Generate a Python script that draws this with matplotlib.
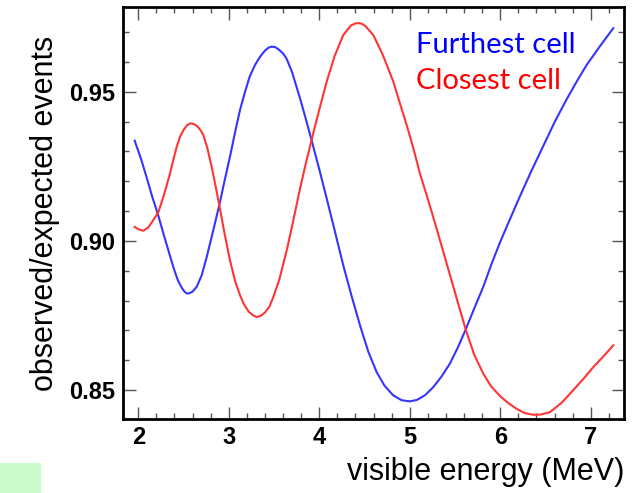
import matplotlib
matplotlib.use("Agg")
import matplotlib.pyplot as plt
from matplotlib.patches import Rectangle
from matplotlib.ticker import MultipleLocator, FormatStrFormatter

# furthest cell (blue)
far_e = [1.96, 2.03, 2.09, 2.15, 2.22, 2.28, 2.35, 2.40, 2.44, 2.48, 2.51, 2.535,
         2.56, 2.60, 2.645, 2.70, 2.756, 2.82, 2.895, 2.95, 3.013, 3.07, 3.124,
         3.18, 3.23, 3.29, 3.345, 3.40, 3.44, 3.474, 3.51, 3.55, 3.60, 3.64, 3.70,
         3.75, 3.787, 3.85, 3.916, 4.0, 4.082, 4.17, 4.265, 4.36, 4.45, 4.54,
         4.634, 4.72, 4.818, 4.91, 5.0, 5.08, 5.17, 5.26, 5.35, 5.444, 5.53,
         5.618, 5.71, 5.812, 5.90, 5.997, 6.10, 6.218, 6.34, 6.475, 6.60, 6.734,
         6.85, 6.955, 7.10, 7.249]
far_r = [0.9336, 0.9275, 0.9215, 0.9152, 0.9086, 0.9022, 0.8950, 0.8900, 0.8866, 0.8843, 0.8830, 0.8824,
         0.8824, 0.8830, 0.8846, 0.8884, 0.8946, 0.9025, 0.9120, 0.9197, 0.9282, 0.9365, 0.9439,
         0.9500, 0.9550, 0.9590, 0.9617, 0.9638, 0.9648, 0.9651, 0.9650, 0.9642, 0.9628, 0.9610, 0.9565,
         0.9515, 0.9478, 0.9410, 0.9336, 0.9240, 0.9142, 0.9035, 0.8918, 0.8812, 0.8717, 0.8630,
         0.8560, 0.8515, 0.8482, 0.8466, 0.8462, 0.8467, 0.8483, 0.8510, 0.8545, 0.8589, 0.8642,
         0.8703, 0.8772, 0.8846, 0.8920, 0.8995, 0.9068, 0.9150, 0.9232, 0.9318, 0.9398, 0.9475,
         0.9537, 0.9590, 0.9652, 0.9713]

# closest cell (red)
near_e = [1.96, 2.0, 2.055, 2.11, 2.166, 2.22, 2.28, 2.35, 2.39, 2.424, 2.46, 2.50,
          2.54, 2.575, 2.61, 2.65, 2.69, 2.718, 2.76, 2.811, 2.85, 2.895, 2.95,
          3.013, 3.07, 3.124, 3.17, 3.22, 3.27, 3.31, 3.35, 3.40, 3.45, 3.492,
          3.56, 3.64, 3.71, 3.787, 3.85, 3.916, 4.0, 4.082, 4.17, 4.265, 4.35,
          4.40, 4.431, 4.47, 4.51, 4.597, 4.70, 4.818, 4.89, 4.966, 5.04, 5.113,
          5.19, 5.26, 5.35, 5.444, 5.53, 5.618, 5.71, 5.812, 5.90, 5.997, 6.09,
          6.181, 6.27, 6.365, 6.45, 6.549, 6.68, 6.807, 6.92, 7.028, 7.14, 7.249]
near_r = [0.9047, 0.9039, 0.9034, 0.9045, 0.9070, 0.9095, 0.9150, 0.9225, 0.9275, 0.9315, 0.9348, 0.9372,
          0.9388, 0.9394, 0.9392, 0.9385, 0.9370, 0.9355, 0.9315, 0.9248, 0.9190, 0.9120, 0.9030,
          0.8935, 0.8865, 0.8818, 0.8786, 0.8763, 0.8750, 0.8745, 0.8748, 0.8760, 0.8780, 0.8812,
          0.8872, 0.8968, 0.9064, 0.9175, 0.9258, 0.9340, 0.9440, 0.9534, 0.9620, 0.9690, 0.9722,
          0.9729, 0.9730, 0.9728, 0.9720, 0.9690, 0.9625, 0.9534, 0.9462, 0.9388, 0.9310, 0.9225,
          0.9150, 0.9079, 0.8985, 0.8886, 0.8795, 0.8703, 0.8620, 0.8555, 0.8512, 0.8480, 0.8456,
          0.8437, 0.8423, 0.8417, 0.8418, 0.8426, 0.8458, 0.8500, 0.8538, 0.8577, 0.8613, 0.8650]

fig = plt.figure(figsize=(6.36, 4.93), dpi=100)
ax = fig.add_axes([0.1934, 0.1501, 0.7877, 0.8357])

ax.plot(far_e, far_r, color="#3535ff", lw=1.5)
ax.plot(near_e, near_r, color="#ff3535", lw=1.5)

ax.set_xlim(1.831, 7.367)
ax.set_ylim(0.8403, 0.9784)
ax.xaxis.set_major_locator(MultipleLocator(1))
ax.xaxis.set_minor_locator(MultipleLocator(0.2))
ax.yaxis.set_major_locator(MultipleLocator(0.05))
ax.yaxis.set_minor_locator(MultipleLocator(0.01))
ax.yaxis.set_major_formatter(FormatStrFormatter("%.2f"))

for s in ax.spines.values():
    s.set_linewidth(2.0)
ax.tick_params(which="both", direction="in", top=True, right=True, color="#555555", width=1.0)
ax.tick_params(which="major", length=9)
ax.tick_params(which="minor", length=4.5)
ax.tick_params(axis="y", pad=6)
ax.tick_params(axis="x", pad=5)
for lab in ax.get_xticklabels() + ax.get_yticklabels():
    lab.set_fontfamily("Liberation Sans")
    lab.set_fontweight("bold")
    lab.set_fontsize(17)

ax.set_xlabel("visible energy (MeV)", loc="right", fontsize=22,
              fontfamily="Liberation Sans", labelpad=6)
ax.set_ylabel("observed/expected events", loc="center", fontsize=22,
              fontfamily="Liberation Sans", labelpad=6)

fig.text(416 / 636, 1 - 53 / 493, "Furthest cell", color="blue", fontsize=21,
         fontfamily="Lato", ha="left", va="baseline")
fig.text(416 / 636, 1 - 89 / 493, "Closest cell", color="red", fontsize=21,
         fontfamily="Lato", ha="left", va="baseline")

fig.patches.append(Rectangle((0, 0), 41 / 636, 30 / 493, transform=fig.transFigure,
                             facecolor="#ccfccc", edgecolor="none"))

fig.savefig("out.png", dpi=100)
